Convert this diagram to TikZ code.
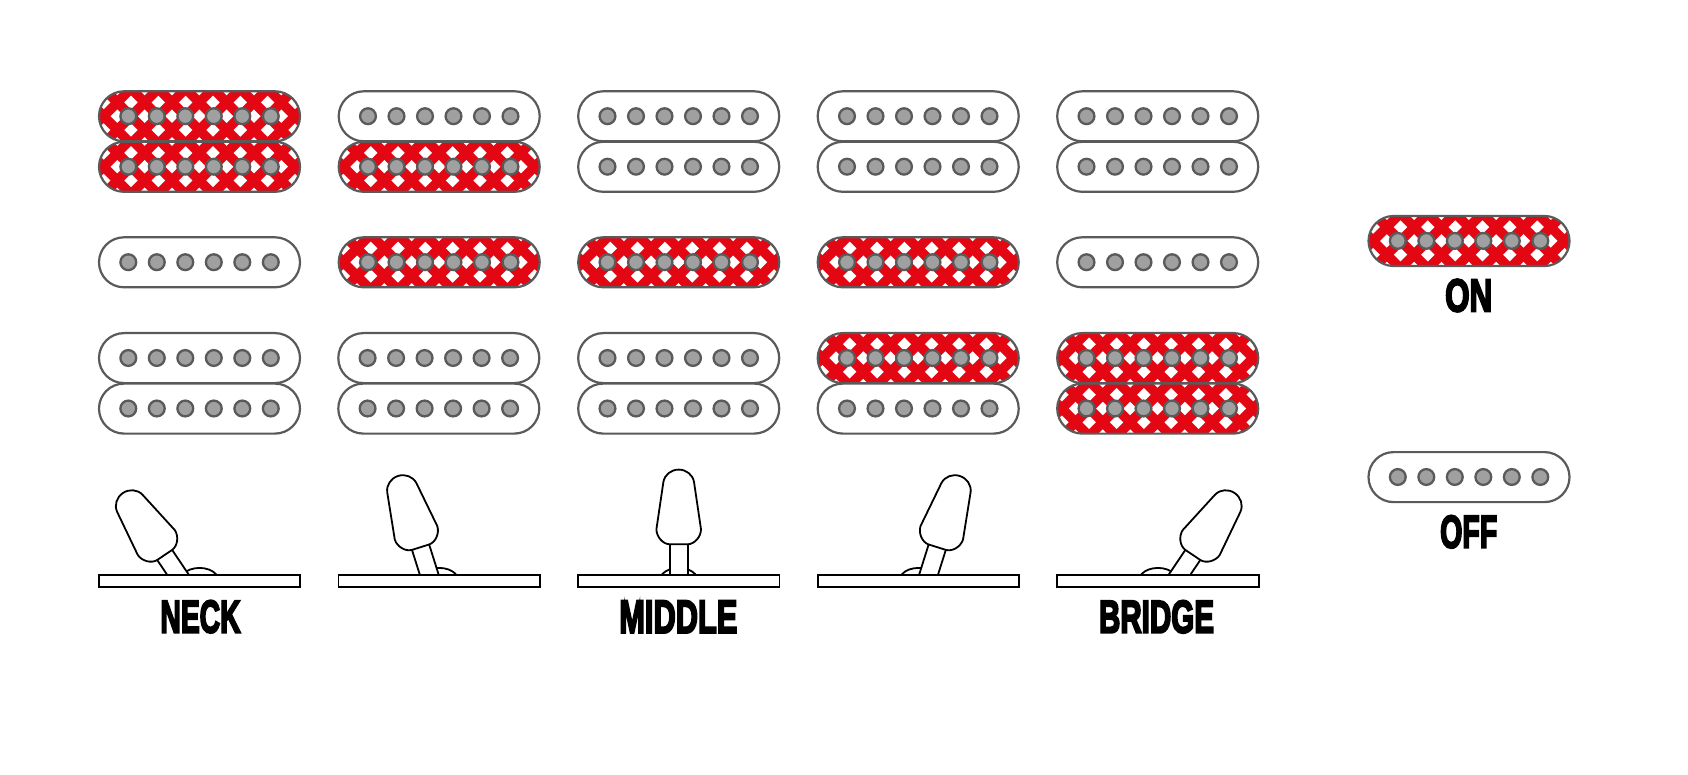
\documentclass[tikz,border=0pt]{standalone}
\usepackage{fontspec}
\newfontfamily\lab[FakeBold=5]{Liberation Sans Bold}
\definecolor{pred}{HTML}{E30613}
\definecolor{pline}{HTML}{5A5A5A}
\definecolor{ppole}{HTML}{A0A0A0}
\tikzset{
  pbody/.style={draw=pline,line width=2.2pt,rounded corners=25pt},
  ppin/.style={draw=pline,fill=ppole,line width=2.3pt},
  blk/.style={draw=black,line width=1.8pt},
  lbl/.style={inner sep=0pt,outer sep=0pt,text=black}
}
\newcommand{\poles}[2]{%
  \foreach \i in {0,...,5}{\draw[ppin] ({#1+29.8+28.5*\i},{#2+25.2}) circle (7.9);}}
\newcommand{\pkoff}[2]{%
  \draw[pbody,fill=white] ({#1+0.5},{#2+0.3}) rectangle ({#1+201.5},{#2+50.3});
  \poles{#1}{#2}}
\newcommand{\pkon}[2]{%
  \begin{scope}
    \clip[rounded corners=25pt] ({#1+0.5},{#2+0.3}) rectangle ({#1+201.5},{#2+50.3});
    \fill[pred] (#1,#2) rectangle ({#1+202},{#2+50.5});
    \foreach \i in {-1,...,7}{
      \foreach \j in {-27.6,0,27.6}{
        \fill[white,shift={({#1+18.8+27.33*\i},{#2+25.2+\j})}] (-6.7,0)--(0,-6.7)--(6.7,0)--(0,6.7)--cycle;}
      \foreach \j in {-13.8,13.8}{
        \fill[white,shift={({#1+32.5+27.33*\i},{#2+25.2+\j})}] (-6.7,0)--(0,-6.7)--(6.7,0)--(0,6.7)--cycle;}
    }
  \end{scope}
  \draw[pbody] ({#1+0.5},{#2+0.3}) rectangle ({#1+201.5},{#2+50.3});
  \poles{#1}{#2}}
% toggle: centre x, tilt
\newcommand{\toggle}[2]{%
  \draw[blk,fill=white] ({#1-16.7},574.3) .. controls ({#1-9},565.8) and ({#1+9},565.8) .. ({#1+16.7},574.3);
  \begin{scope}[shift={(#1,606.6)},rotate=#2]
    \fill[white] (-9,-63) rectangle (9,-29);
    \draw[blk] (-9,-63) -- (-9,-29);
    \draw[blk] (9,-63) -- (9,-29);
    \draw[blk,fill=white,line join=round] (-9,-62.3) -- (9,-62.3)
      .. controls (16,-62.5) and (22.3,-70) .. (22.3,-77.3)
      -- (15.3,-124.7) .. controls (14,-132) and (7.5,-137) .. (0,-137)
      .. controls (-7.5,-137) and (-14,-132) .. (-15.3,-124.7)
      -- (-22.3,-77.3) .. controls (-22.3,-70) and (-16,-62.5) .. (-9,-62.3) -- cycle;
  \end{scope}
  \draw[blk,fill=white] ({#1-100.8},574.6) rectangle ({#1+100.8},586.8);}
\newcommand{\lbltext}[3]{\resizebox{#1pt}{#2pt}{\lab #3}}
\begin{document}
\begin{tikzpicture}[x=1pt,y=-1pt]
\useasboundingbox (0,0) rectangle (1688,775);
\fill[white] (0,0) rectangle (1688,775);
% column 1
\pkon{98.5}{91}\pkon{98.5}{141.5}
\pkoff{98.5}{237}
\pkoff{98.5}{332.8}\pkoff{98.5}{383.3}
% column 2
\pkoff{338.2}{91}\pkon{338.2}{141.5}
\pkon{338.2}{237}
\pkoff{337.8}{332.8}\pkoff{337.8}{383.3}
% column 3
\pkoff{577.7}{91}\pkoff{577.7}{141.5}
\pkon{577.7}{237}
\pkoff{577.7}{332.8}\pkoff{577.7}{383.3}
% column 4
\pkoff{817.2}{91}\pkoff{817.2}{141.5}
\pkon{817.2}{237}
\pkon{817.2}{332.8}\pkoff{817.2}{383.3}
% column 5
\pkoff{1056.7}{91}\pkoff{1056.7}{141.5}
\pkoff{1056.7}{237}
\pkon{1056.7}{332.8}\pkon{1056.7}{383.3}
% legend
\pkon{1368}{215.7}
\pkoff{1368}{451.8}
% toggles
\toggle{199.5}{34}
\toggle{439.3}{17.5}
\toggle{678.7}{0}
\toggle{918.5}{-17.5}
\toggle{1158}{-34}
% labels
\node[lbl] (neck) at (200.5,616.7) {\lbltext{80}{32}{NECK}};
\node[lbl] (middle) at (678.3,616.8) {\lbltext{118}{32}{MIDDLE}};
\node[lbl] (bridge) at (1156.5,616.8) {\lbltext{115}{32}{BRIDGE}};
\node[lbl] (on) at (1468.7,295.5) {\lbltext{47}{32}{ON}};
\node[lbl] (off) at (1468.7,531.8) {\lbltext{57}{32}{OFF}};
\end{tikzpicture}
\end{document}
